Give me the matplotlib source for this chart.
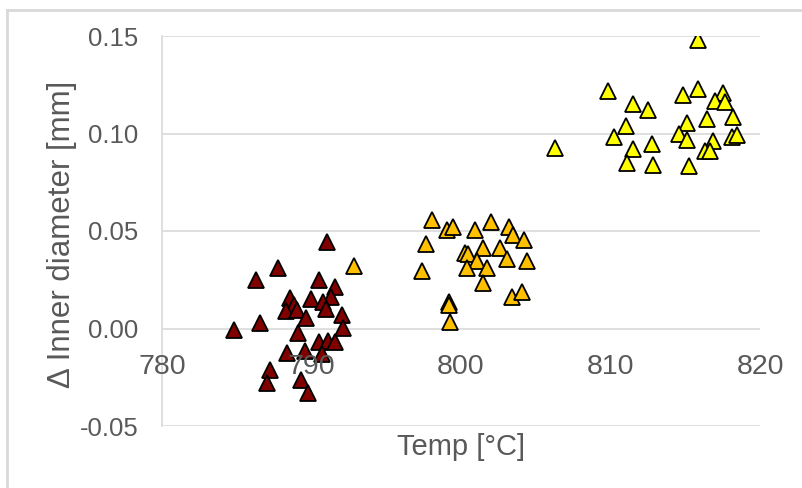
import matplotlib
matplotlib.use("Agg")
import matplotlib.pyplot as plt
from matplotlib.lines import Line2D

# three temperature groups: temp [°C], change of inner diameter [mm]
red_x = [791.05, 787.78, 786.31, 790.5, 791.6, 788.56, 789.97, 791.3, 788.8, 790.8,
         788.3, 789.0, 791.0, 792.06, 789.63, 784.84, 786.56, 792.13, 789.07, 790.52,
         791.1, 791.6, 788.34, 789.57, 790.68, 787.22, 787.0, 789.28, 789.79]
red_y = [0.0443, 0.0311, 0.025, 0.025, 0.0215, 0.0155, 0.0152, 0.0164, 0.0123, 0.0138,
         0.0092, 0.0096, 0.0101, 0.0067, 0.0055, -0.001, 0.0027, 0.0002, -0.0024, -0.0067,
         -0.0062, -0.0067, -0.0127, -0.0113, -0.0133, -0.0215, -0.028, -0.0263, -0.033]

orange_x = [792.85, 798.08, 799.08, 799.49, 800.96, 801.98, 803.23, 803.45, 804.23, 797.66,
            800.3, 800.5, 801.5, 802.6, 803.05, 804.4, 801.1, 797.37, 800.42, 801.76,
            801.44, 803.38, 804.05, 799.2, 799.2, 799.26]
orange_y = [0.0323, 0.0554, 0.0506, 0.052, 0.0506, 0.0544, 0.052, 0.0482, 0.0455, 0.0434,
            0.0386, 0.038, 0.0414, 0.0414, 0.0357, 0.0345, 0.0345, 0.0297, 0.0309, 0.0309,
            0.0234, 0.0164, 0.0186, 0.0135, 0.0118, 0.0032]

yellow_x = [806.3, 815.87, 809.85, 814.82, 815.83, 817.5, 816.99, 817.66, 811.48, 812.5,
            818.17, 815.1, 816.48, 811.04, 810.23, 814.6, 815.1, 818.1, 818.44, 816.88,
            811.48, 812.78, 816.32, 816.66, 811.08, 812.86, 815.27]
yellow_y = [0.0925, 0.148, 0.1217, 0.12, 0.1229, 0.1207, 0.1169, 0.116, 0.1152, 0.1118,
            0.1087, 0.1053, 0.1072, 0.1041, 0.0981, 0.0995, 0.0969, 0.0981, 0.099, 0.096,
            0.0921, 0.0944, 0.0909, 0.0909, 0.0848, 0.0839, 0.0832]

x_ticks = [780, 790, 800, 810, 820]
y_ticks = [-0.05, 0.0, 0.05, 0.10, 0.15]

TXT = "#595959"
GRID = "#D9D9D9"
plt.rcParams["font.family"] = ["Liberation Sans", "DejaVu Sans"]

fig = plt.figure(figsize=(8.02, 4.88), dpi=100)
ax = fig.add_axes([162/802, 1-426/488, (760-162)/802, (426-36)/488])

for xs, ys, col in [(red_x, red_y, "#800000"), (orange_x, orange_y, "#FFC000"),
                    (yellow_x, yellow_y, "#FFFF00")]:
    ax.plot(xs, ys, ls="none", marker="^", ms=11, mfc=col, mec="black", mew=1.3, zorder=1.5)

ax.set_xlim(780, 820)
ax.set_ylim(-0.05, 0.15)
ax.set_xticks(x_ticks)
ax.set_yticks(y_ticks)
ax.set_yticklabels([f"{v:.2f}" for v in y_ticks])
# gridlines behind the markers, tick labels in front (as in Excel)
for v in y_ticks:
    ax.axhline(v, color=GRID, lw=1.2, zorder=1)
for s in ["top", "right"]:
    ax.spines[s].set_visible(False)
ax.spines["bottom"].set_position(("data", 0))
ax.spines["bottom"].set_visible(False)
ax.spines["left"].set_color(GRID)
ax.spines["left"].set_linewidth(1.2)
ax.spines["left"].set_zorder(1)
ax.tick_params(axis="x", length=0, pad=18, labelsize=20.5, labelcolor=TXT)
ax.tick_params(axis="y", length=0, pad=17, labelsize=18.5, labelcolor=TXT)
ax.xaxis.set_zorder(5)

fig.text(461/802, 1-447/488, "Temp [°C]", ha="center", va="center", fontsize=21, color=TXT)
fig.text(62/802, 1-234/488, "Δ Inner diameter [mm]", ha="center", va="center",
         rotation=90, fontsize=22.5, color=TXT)

# chart-area border (top and left visible)
fig.add_artist(Line2D([6.5/802, 1], [1-10/488, 1-10/488], color=GRID, lw=2, transform=fig.transFigure))
fig.add_artist(Line2D([6.5/802, 6.5/802], [0, 1-10/488], color=GRID, lw=2, transform=fig.transFigure))

fig.savefig("out.png", dpi=100)
